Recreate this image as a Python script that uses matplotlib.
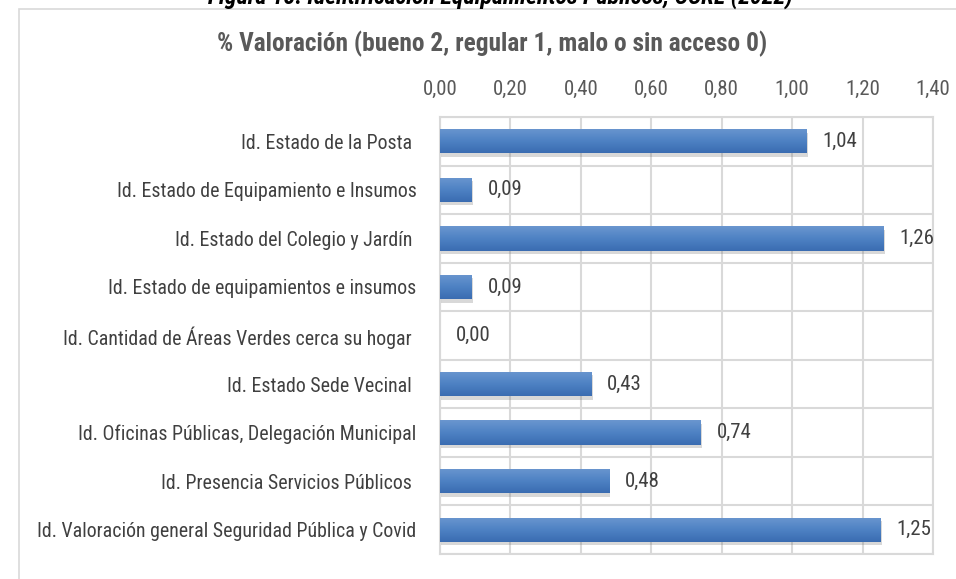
import numpy as np
import matplotlib; matplotlib.use('Agg')
import matplotlib.pyplot as plt
import matplotlib.patheffects as pe
from matplotlib import font_manager
from matplotlib.colors import LinearSegmentedColormap
from matplotlib.ticker import FuncFormatter
from matplotlib.patches import Rectangle

categories = ['Id. Estado de la Posta ', 'Id. Estado de Equipamiento e Insumos',
              'Id. Estado del Colegio y Jardín ', 'Id. Estado de equipamientos e insumos',
              'Id. Cantidad de Áreas Verdes cerca su hogar ', 'Id. Estado Sede Vecinal ',
              'Id. Oficinas Públicas, Delegación Municipal', 'Id. Presencia Servicios Públicos ',
              'Id. Valoración general Seguridad Pública y Covid']
values = [1.04, 0.09, 1.26, 0.09, 0.00, 0.43, 0.74, 0.48, 1.25]
xticks = [0, 0.2, 0.4, 0.6, 0.8, 1.0, 1.2, 1.4]

# pick a narrow face if one is installed, else condensed DejaVu, else plain
names = {f.name for f in font_manager.fontManager.ttflist}
narrow = [n for n in ['Liberation Sans Narrow', 'Arial Narrow', 'Roboto Condensed'] if n in names]
STRETCH = 'normal'
if narrow:
    FONT, SZ = [narrow[0], 'DejaVu Sans'], 14.3
elif any(f.name == 'DejaVu Sans' and f.stretch == 'condensed' for f in font_manager.fontManager.ttflist):
    FONT, SZ, STRETCH = ['DejaVu Sans'], 12.5, 'condensed'
else:
    FONT, SZ = ['Liberation Sans', 'DejaVu Sans'], 12.5
plt.rcParams['font.family'] = FONT
plt.rcParams['font.stretch'] = STRETCH
GRID = '#d9d9d9'
comma = lambda v: f'{v:.2f}'.replace('.', ',')

fig = plt.figure(figsize=(9.56, 5.79), dpi=100)
fig.patch.set_facecolor('white')
# outer chart frame (cut by the image edges)
fig.add_artist(Rectangle((19/956, -0.1), 1.2, 1.1 - 9/579, transform=fig.transFigure,
                         fill=False, ec=GRID, lw=1.2))
fig.text(0.523, 1 - 4/579, 'Figura 18: Identificación Equipamientos Públicos, CCRL (2022)',
         ha='center', va='baseline', fontsize=SZ * 1.2, fontweight='bold', style='italic', color='black')
fig.text(0.515, 1 - 44/579, '% Valoración (bueno 2, regular 1, malo o sin acceso 0)',
         ha='center', va='center', fontsize=SZ * 1.28, fontweight='bold', color='#595959')

ax = fig.add_axes([440/956, 1 - 554/579, (933 - 440)/956, (554 - 117)/579])
y = np.arange(len(categories))
bars = ax.barh(y, values, height=0.5, color='#4f81bd', zorder=3,
               path_effects=[pe.SimplePatchShadow(offset=(1, -2.5), shadow_rgbFace='#666666', alpha=0.25),
                             pe.Normal()])
cmap = LinearSegmentedColormap.from_list('g', ['#3a6cb1', '#4e82c4', '#6a96cf'])
grad = np.linspace(0, 1, 64).reshape(-1, 1)
for b in bars:
    if b.get_width() <= 0:
        continue
    x0, y0, w, h = b.get_x(), b.get_y(), b.get_width(), b.get_height()
    im = ax.imshow(grad, extent=[x0, x0 + w, y0 + h, y0], origin='lower', cmap=cmap,
                   aspect='auto', zorder=4)
    im.set_clip_path(b)

for yi, v in zip(y, values):
    ax.text(v + 0.045, yi, comma(v), va='center', ha='left', fontsize=SZ * 1.05, color='#404040', zorder=5)

ax.set_xlim(0, 1.4)
ax.set_ylim(len(categories) - 0.5, -0.5)
ax.xaxis.tick_top()
ax.set_xticks(xticks)
ax.xaxis.set_major_formatter(FuncFormatter(lambda v, p: comma(v)))
ax.set_yticks(y)
ax.set_yticklabels(categories)
ax.set_yticks(np.arange(-0.5, len(categories), 1), minor=True)
ax.tick_params(axis='x', length=0, pad=13, labelsize=SZ * 1.05, labelcolor='#595959')
ax.tick_params(axis='y', which='both', length=0, pad=17, labelsize=SZ, labelcolor='#404040')
ax.grid(axis='x', color=GRID, lw=1.5, zorder=0)
ax.grid(axis='y', which='minor', color=GRID, lw=1.5, zorder=0)
ax.set_axisbelow(True)
for s in ax.spines.values():
    s.set_color(GRID); s.set_linewidth(1.5)

fig.savefig('out.png', dpi=100, facecolor='white')
